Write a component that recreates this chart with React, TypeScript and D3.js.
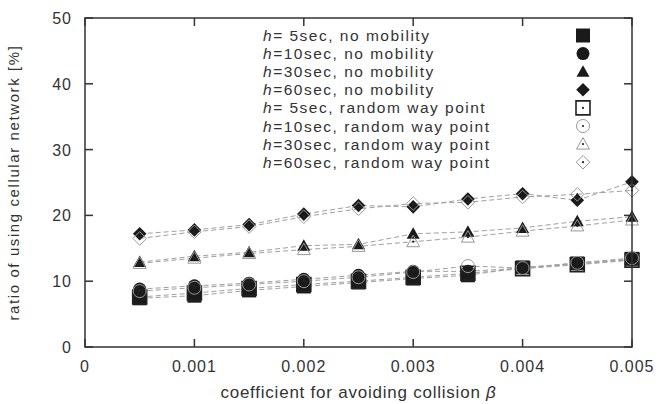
import React from "react";
import * as d3 from "d3";

const betas = [0.0005, 0.001, 0.0015, 0.002, 0.0025, 0.003, 0.0035, 0.004, 0.0045, 0.005];
const xTicks = [0, 0.001, 0.002, 0.003, 0.004, 0.005];
const xTickLabels = ["0", "0.001", "0.002", "0.003", "0.004", "0.005"];
const yTicks = [0, 10, 20, 30, 40, 50];

const h5NoMob = [7.4, 7.8, 8.6, 9.2, 9.8, 10.4, 10.9, 12.1, 12.7, 13.4];
const h10NoMob = [8.8, 9.3, 9.7, 10.3, 10.9, 11.5, 11.5, 12.0, 12.6, 13.3];
const h30NoMob = [12.9, 13.8, 14.4, 15.4, 15.6, 17.2, 17.5, 18.1, 19.1, 19.8];
const h60NoMob = [17.2, 17.8, 18.6, 20.2, 21.5, 21.3, 22.5, 23.3, 22.3, 25.1];
const h5Rwp = [7.6, 8.2, 8.9, 9.5, 10.0, 10.6, 11.2, 11.9, 12.5, 13.2];
const h10Rwp = [8.5, 9.0, 9.5, 10.0, 10.6, 11.4, 12.3, 12.0, 12.8, 13.5];
const h30Rwp = [12.7, 13.5, 14.2, 14.8, 15.3, 16.0, 16.7, 17.6, 18.4, 19.3];
const h60Rwp = [16.5, 17.5, 18.3, 19.8, 21.0, 21.8, 22.0, 22.8, 23.2, 23.8];

const seriesNames = [
  "= 5sec, no mobility",
  "=10sec, no mobility",
  "=30sec, no mobility",
  "=60sec, no mobility",
  "= 5sec, random way point",
  "=10sec, random way point",
  "=30sec, random way point",
  "=60sec, random way point",
];

type Shape = "square" | "circle" | "triangle" | "diamond";
const series: { values: number[]; shape: Shape; filled: boolean }[] = [
  { values: h5NoMob, shape: "square", filled: true },
  { values: h10NoMob, shape: "circle", filled: true },
  { values: h30NoMob, shape: "triangle", filled: true },
  { values: h60NoMob, shape: "diamond", filled: true },
  { values: h5Rwp, shape: "square", filled: false },
  { values: h10Rwp, shape: "circle", filled: false },
  { values: h30Rwp, shape: "triangle", filled: false },
  { values: h60Rwp, shape: "diamond", filled: false },
];

const W = 658, H = 404;
const L = 85, R = 632, T = 18, B = 347;
const FONT = "'Liberation Sans', Arial, Helvetica, sans-serif";
const TXT = "#333";

function shapePath(shape: Shape): string {
  switch (shape) {
    case "square": return "M-7,-7H7V7H-7Z";
    case "circle": return d3.arc()({ innerRadius: 0, outerRadius: 6.5, startAngle: 0, endAngle: 2 * Math.PI }) as string;
    case "triangle": return "M0,-6.5L6.5,5L-6.5,5Z";
    case "diamond": return "M0,-6.8L6.8,0L0,6.8L-6.8,0Z";
  }
}

function Marker({ x, y, shape, filled }: { x: number; y: number; shape: Shape; filled: boolean }) {
  const d = shapePath(shape);
  if (filled) return <path d={d} transform={`translate(${x},${y})`} fill="#1a1a1a" />;
  const stroke = shape === "square" ? "#222" : "#999";
  const sw = shape === "square" ? 1.6 : 1;
  return (
    <g transform={`translate(${x},${y})`}>
      <path d={d} fill="none" stroke={stroke} strokeWidth={sw} />
      <circle r={1.1} fill="#222" />
    </g>
  );
}

export default function App() {
  const x = d3.scaleLinear().domain([0, 0.005]).range([L, R]);
  const y = d3.scaleLinear().domain([0, 50]).range([B, T]);
  const line = d3.line<number>().x((_, i) => x(betas[i])).y((v) => y(v));
  const legendY = (i: number) => 35.5 + i * 18.1;

  return (
    <svg width={W} height={H} style={{ position: "absolute", left: 0, top: 0, background: "#fff" }} fontFamily={FONT}>
      {series.map((s, i) => (
        <path key={"l" + i} d={line(s.values) as string} fill="none" stroke="#a0a0a0" strokeWidth={1} strokeDasharray="5,3" />
      ))}
      {series.map((s, i) => (
        <g key={"p" + i}>
          {s.values.map((v, j) => (
            <Marker key={j} x={x(betas[j])} y={y(v)} shape={s.shape} filled={s.filled} />
          ))}
        </g>
      ))}
      <rect x={L} y={T} width={R - L} height={B - T} fill="none" stroke="#333" strokeWidth={1.5} />
      {yTicks.map((t) => (
        <g key={"yt" + t}>
          <line x1={L} x2={L + 8} y1={y(t)} y2={y(t)} stroke="#333" strokeWidth={1.5} />
          <line x1={R} x2={R - 8} y1={y(t)} y2={y(t)} stroke="#333" strokeWidth={1.5} />
          <text x={72} y={y(t) + 6} textAnchor="end" fontSize={16} fill={TXT} letterSpacing={1}>{t}</text>
        </g>
      ))}
      {xTicks.map((t, i) => (
        <g key={"xt" + t}>
          <line x1={x(t)} x2={x(t)} y1={B} y2={B - 8} stroke="#333" strokeWidth={1.5} />
          <line x1={x(t)} x2={x(t)} y1={T} y2={T + 8} stroke="#333" strokeWidth={1.5} />
          <text x={x(t)} y={372} textAnchor="middle" fontSize={16} fill={TXT} letterSpacing={1}>{xTickLabels[i]}</text>
        </g>
      ))}
      <text x={(L + R) / 2} y={398} textAnchor="middle" fontSize={17} fill={TXT} letterSpacing={0.77}>
        coefficient for avoiding collision <tspan fontStyle="italic">β</tspan>
      </text>
      <text transform={`translate(19,${(T + B) / 2}) rotate(-90)`} textAnchor="middle" fontSize={15} fill={TXT} letterSpacing={1.6}>
        ratio of using cellular network [%]
      </text>
      {series.map((s, i) => (
        <g key={"lg" + i}>
          <text x={263} y={legendY(i) + 5.5} fontSize={15.5} fill={TXT} letterSpacing={1.5}>
            <tspan fontStyle="italic">h</tspan>{seriesNames[i]}
          </text>
          <Marker x={583} y={legendY(i)} shape={s.shape} filled={s.filled} />
        </g>
      ))}
    </svg>
  );
}
